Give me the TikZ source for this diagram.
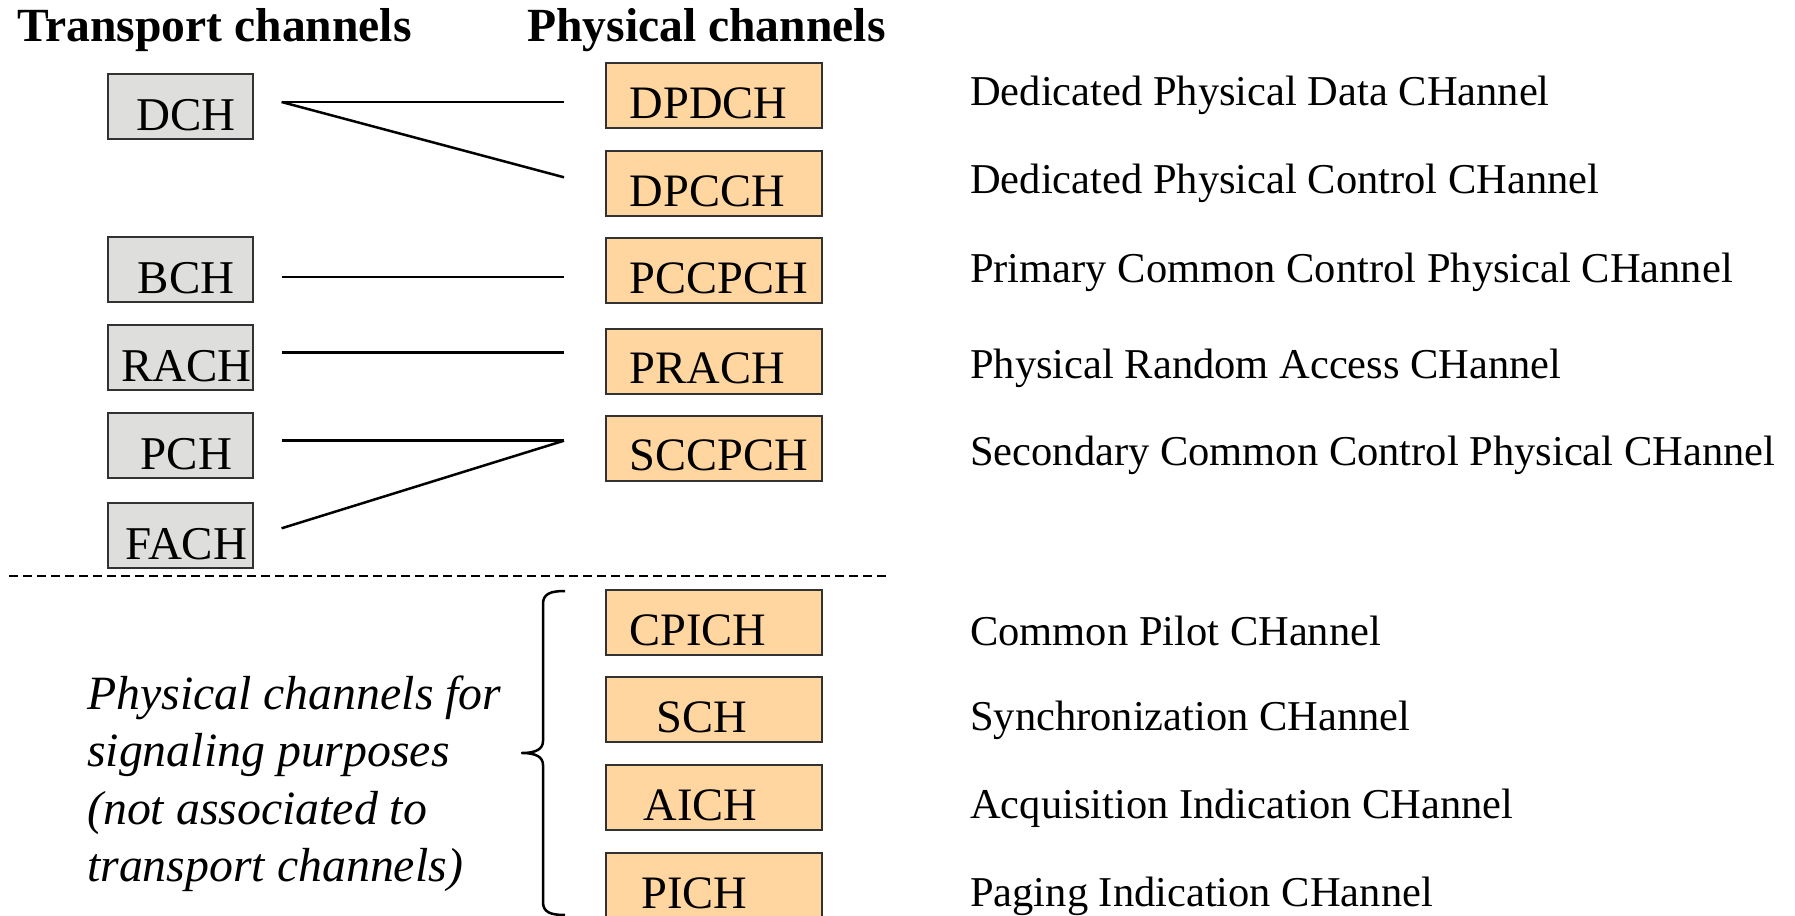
\documentclass[tikz,border=0pt]{standalone}
\usepackage{fontspec}
\setmainfont{Liberation Serif}
\usetikzlibrary{calc}
\definecolor{trgray}{RGB}{222,222,220}
\definecolor{phorange}{RGB}{255,214,160}
\definecolor{boxline}{RGB}{50,50,50}
\tikzstyle{head}=[anchor=base west, inner sep=0pt, font=\fontsize{47.6}{56}\selectfont\bfseries]
\tikzstyle{tbox}=[rectangle, draw=boxline, line width=2pt, fill=trgray, minimum width=144.5pt, minimum height=65pt, inner sep=0pt, text height=48pt, text depth=0pt, font=\fontsize{47}{56}\selectfont, execute at begin node={\hspace*{12pt}}]
\tikzstyle{pbox}=[rectangle, draw=boxline, line width=2pt, fill=phorange, minimum width=216.4pt, minimum height=65pt, inner xsep=24pt, inner ysep=0pt, text width=168.4pt, align=left, text height=45pt, text depth=0pt, font=\fontsize{46.5}{56}\selectfont]
\tikzstyle{desc}=[anchor=base west, inner sep=0pt, font=\fontsize{42.5}{51}\selectfont]
\tikzstyle{note}=[anchor=base west, inner sep=0pt, align=left, font=\fontsize{47.8}{57.5}\selectfont\itshape]
\tikzstyle{link}=[line width=2.5pt]
\tikzstyle{sep}=[line width=2.3pt, dash pattern=on 9pt off 5pt]
\tikzstyle{sigbrace}=[line width=2.5pt, line join=round]

\begin{document}
\begin{tikzpicture}[x=1pt, y=-1pt]
\useasboundingbox (0,0) rectangle (1795,915);
\draw (17,42) node[head] (TH) {Transport channels};
\draw (527,42) node[head] (PH) {Physical channels};

% transport channels
\draw (180.3,106.7) node[tbox] (DCH) {DCH};
\draw (180.3,269.5) node[tbox] (BCH) {BCH};
\draw (180.3,357.5) node[tbox] (RACH) {RACH};
\draw (180.3,445.3) node[tbox] (PCH) {PCH};
\draw (180.3,535) node[tbox] (FACH) {FACH};

% physical channels
\draw (713.8,95.8) node[pbox] (DPDCH) {DPDCH};
\draw (713.8,183.5) node[pbox] (DPCCH) {DPCCH};
\draw (713.8,270.5) node[pbox] (PCCPCH) {PCCPCH};
\draw (713.8,361) node[pbox] (PRACH) {PRACH};
\draw (713.8,448) node[pbox] (SCCPCH) {SCCPCH};
\draw (713.8,622.5) node[pbox] (CPICH) {CPICH};
\draw (713.8,709.5) node[pbox] (SCH) {\hspace*{27pt}SCH};
\draw (713.8,797.8) node[pbox] (AICH) {\hspace*{14pt}AICH};
\draw (713.8,885.5) node[pbox] (PICH) {\hspace*{12pt}PICH};

\draw[link] ($(DCH.east)+(28,-4.7)$) -- ($(DPDCH.west)+(-40.6,6.2)$);
\draw[link] ($(DCH.east)+(28,-4.7)$) -- ($(DPCCH.west)+(-40.6,-6.2)$);
\draw[link] ($(BCH.east)+(28,7.5)$) -- ($(PCCPCH.west)+(-40.6,6.5)$);
\draw[link] ($(RACH.east)+(28,-4.8)$) -- ($(PRACH.west)+(-40.6,-8.3)$);
\draw[link] ($(PCH.east)+(28,-4.6)$) -- ($(SCCPCH.west)+(-40.6,-7.3)$);
\draw[link] ($(FACH.east)+(28,-6.7)$) -- ($(SCCPCH.west)+(-40.6,-7.3)$);

\draw[sep] (9,576) -- (887,576);
% brace round the signaling channels
\draw[sigbrace] (565,591) .. controls (550,591) and (543,594) .. (543,604) -- (543,741)
  .. controls (543,749) and (536,753) .. (522,753) .. controls (536,753) and (543,757) .. (543,765)
  -- (543,902) .. controls (543,912) and (550,915) .. (565,915);
\draw (87,881.5) node[note] (SIG) {Physical channels for\\signaling purposes\\(not associated to\\transport channels)};

% full names
\draw (970,106) node[desc] (dDPDCH) {Dedicated Physical Data CHannel};
\draw (970,193) node[desc] (dDPCCH) {Dedicated Physical Control CHannel};
\draw (970,282) node[desc] (dPCCPCH) {Primary Common Control Physical CHannel};
\draw (970,378) node[desc] (dPRACH) {Physical Random Access CHannel};
\draw (970,465) node[desc] (dSCCPCH) {Secondary Common Control Physical CHannel};
\draw (970,645) node[desc] (dCPICH) {Common Pilot CHannel};
\draw (970,730) node[desc] (dSCH) {Synchronization CHannel};
\draw (970,818) node[desc] (dAICH) {Acquisition Indication CHannel};
\draw (970,906) node[desc] (dPICH) {Paging Indication CHannel};
\end{tikzpicture}
\end{document}
